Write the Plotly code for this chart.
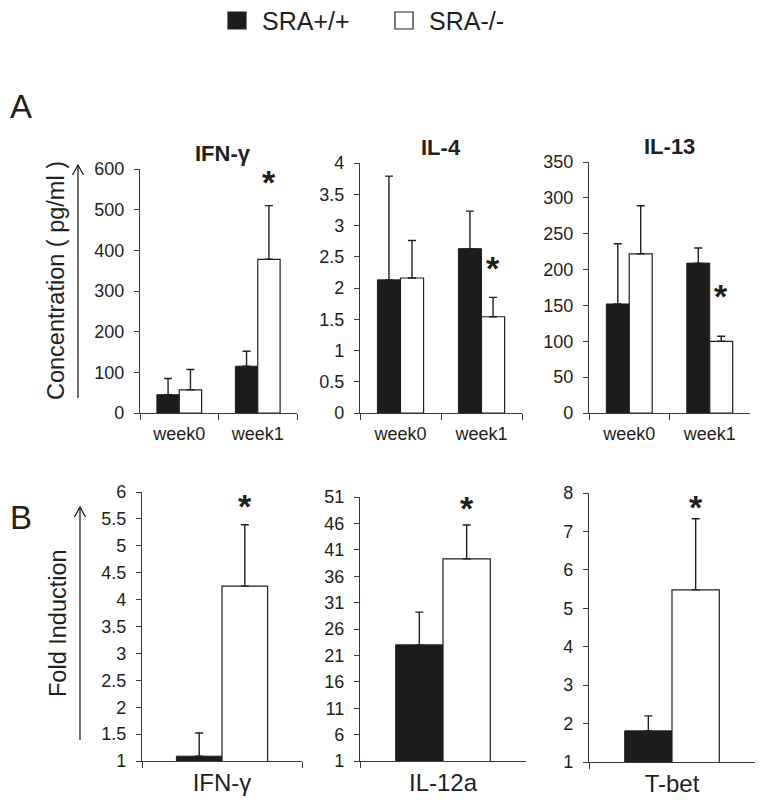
import plotly.graph_objects as go

W, H = 764, 810

# ---------------- data ----------------
groups = ["SRA+/+", "SRA-/-"]
weeks = ["week0", "week1"]

ifng_wt = [45, 115]
ifng_wt_err = [40, 37]
ifng_ko = [57, 378]
ifng_ko_err = [50, 132]

il4_wt = [2.13, 2.63]
il4_wt_err = [1.66, 0.60]
il4_ko = [2.16, 1.54]
il4_ko_err = [0.60, 0.31]

il13_wt = [152, 209]
il13_wt_err = [84, 21]
il13_ko = [222, 100]
il13_ko_err = [67, 7]

genes_b = ["IFN-γ", "IL-12a", "T-bet"]
fold_wt = [1.09, 23.0, 1.81]
fold_wt_err = [0.43, 6.2, 0.39]
fold_ko = [4.25, 39.3, 5.48]
fold_ko_err = [1.14, 6.4, 1.85]

titles_a = ["IFN-γ", "IL-4", "IL-13"]
yranges_a = [[0, 600], [0, 4], [0, 350]]
ydticks_a = [100, 0.5, 50]
yranges_b = [[1, 6], [1, 51], [1, 8]]
ydticks_b = [0.5, 5, 1]
star_a = [582, 2.42, 172]
star_b = [5.85, 50.0, 7.8]

# ---------------- layout helpers ----------------
def px(x):
    return x / W

def py(y):
    return 1 - y / H

# panel boxes in pixels: (left, right, top, bottom)
boxes_a = [(140, 297, 169, 413), (360, 522, 163, 413), (589, 750, 162, 413)]
boxes_b = [(142, 302, 492, 761), (360, 526, 497, 761), (589, 755, 493, 762)]

FONT = "Liberation Sans, Arial, sans-serif"
INK = "#231f20"
BLACK_BAR = "#1e1b1c"
AX = "#3a3a3a"

fig = go.Figure()
layout = dict(
    width=W, height=H,
    margin=dict(l=0, r=0, t=0, b=0, pad=0, autoexpand=False),
    paper_bgcolor="white", plot_bgcolor="white",
    showlegend=False,
    barmode="group", bargap=0.43, bargroupgap=0,
    font=dict(family=FONT, color=INK),
)

annotations = []
shapes = []

def add_panel(idx, cats, wt, wt_err, ko, ko_err, box, yrange, dtick, tickfont_x, xstandoff, star_y, star_off):
    xa = "x" if idx == 1 else f"x{idx}"
    ya = "y" if idx == 1 else f"y{idx}"
    err_kw = dict(type="data", symmetric=False, color=INK, thickness=1.4, width=4)
    fig.add_trace(go.Bar(
        x=cats, y=wt, name=groups[0], xaxis=xa, yaxis=ya,
        marker=dict(color=BLACK_BAR, line=dict(color=INK, width=1)),
        error_y=dict(array=wt_err, arrayminus=[0] * len(wt), **err_kw),
        offsetgroup="a",
    ))
    fig.add_trace(go.Bar(
        x=cats, y=ko, name=groups[1], xaxis=xa, yaxis=ya,
        marker=dict(color="white", line=dict(color=INK, width=1.2)),
        error_y=dict(array=ko_err, arrayminus=[0] * len(ko), **err_kw),
        offsetgroup="b",
    ))
    l, r, t, b = box
    n = len(cats)
    layout["xaxis" if idx == 1 else f"xaxis{idx}"] = dict(
        domain=[px(l), px(r)], anchor=ya, type="category", automargin=False,
        range=[-0.5, n - 0.5], showline=True, linecolor=AX, linewidth=1.3,
        ticks="outside", tickson="boundaries", ticklen=6, tickcolor=AX, tickwidth=1.3,
        ticklabelstandoff=xstandoff,
        tickfont=tickfont_x, showgrid=False, zeroline=False, fixedrange=True,
    )
    layout["yaxis" if idx == 1 else f"yaxis{idx}"] = dict(
        domain=[py(b), py(t)], anchor=xa, range=yrange, dtick=dtick, automargin=False,
        tick0=yrange[0], showline=True, linecolor=AX, linewidth=1.3,
        ticks="outside", ticklen=5, tickcolor=AX, tickwidth=1.3,
        ticklabelstandoff=6,
        tickfont=dict(size=18, family=FONT, color=INK),
        showgrid=False, zeroline=False, fixedrange=True,
    )
    annotations.append(dict(
        text="<b>*</b>", x=star_off, y=star_y, xref=xa, yref=ya,
        showarrow=False, font=dict(size=34, family=FONT, color=INK),
        xanchor="center", yanchor="middle", yshift=-6,
    ))

# Panel A
data_a = [(ifng_wt, ifng_wt_err, ifng_ko, ifng_ko_err),
          (il4_wt, il4_wt_err, il4_ko, il4_ko_err),
          (il13_wt, il13_wt_err, il13_ko, il13_ko_err)]
for i in range(3):
    wt, wte, ko, koe = data_a[i]
    add_panel(i + 1, weeks, wt, wte, ko, koe, boxes_a[i], yranges_a[i], ydticks_a[i],
              dict(size=18, family=FONT, color=INK), 4, star_a[i], 1 + 0.1425)
    l, r, t, b = boxes_a[i]
    annotations.append(dict(
        text=f"<b>{titles_a[i]}</b>", x=px((l + r) / 2 + (0 if i else 4)), y=py(t - 16),
        xref="paper", yref="paper", showarrow=False,
        font=dict(size=22, family=FONT, color=INK), xanchor="center", yanchor="middle",
    ))

# Panel B
for i in range(3):
    add_panel(i + 4, [genes_b[i]], [fold_wt[i]], [fold_wt_err[i]], [fold_ko[i]], [fold_ko_err[i]],
              boxes_b[i], yranges_b[i], ydticks_b[i],
              dict(size=24, family=FONT, color=INK), 0, star_b[i], 0.1425)

layout["annotations"] = annotations

# Panel letters
for letter, (x, y) in (("A", (21, 106)), ("B", (21, 517))):
    annotations.append(dict(text=letter, x=px(x), y=py(y), xref="paper", yref="paper",
                            showarrow=False, font=dict(size=33, family=FONT, color=INK),
                            xanchor="center", yanchor="middle"))

# Axis titles with arrows
for label, size, (tx, ty), (ax_, y0, y1) in (
    ("Concentration ( pg/ml )", 23.5, (56, 281), (78, 398, 165)),
    ("Fold Induction", 23.5, (58, 623), (80, 740, 507)),
):
    annotations.append(dict(text=label, x=px(tx), y=py(ty), xref="paper", yref="paper",
                            showarrow=False, textangle=-90,
                            font=dict(size=size, family=FONT, color=INK),
                            xanchor="center", yanchor="middle"))
    shapes.append(dict(type="line", xref="paper", yref="paper",
                       x0=px(ax_), x1=px(ax_), y0=py(y0), y1=py(y1),
                       line=dict(color=INK, width=1.3)))
    shapes.append(dict(type="path", xref="paper", yref="paper",
                       path=f"M {px(ax_ - 5.5)} {py(y1 + 10)} L {px(ax_)} {py(y1)} L {px(ax_ + 5.5)} {py(y1 + 10)}",
                       line=dict(color=INK, width=1.3)))

# Legend (manual)
legend_items = [(groups[0], BLACK_BAR, 228, 260), (groups[1], "white", 395, 427)]
for name, col, sx, tx in legend_items:
    shapes.append(dict(type="rect", xref="paper", yref="paper",
                       x0=px(sx), x1=px(sx + 18), y0=py(29), y1=py(12),
                       fillcolor=col, line=dict(color=INK, width=1.2)))
    annotations.append(dict(text=name, x=px(tx), y=py(21), xref="paper", yref="paper",
                            showarrow=False, font=dict(size=25, family=FONT, color=INK),
                            xanchor="left", yanchor="middle"))

layout["shapes"] = shapes
fig.update_layout(**layout)
fig.write_html("out.html", config={"displayModeBar": False},
               post_script="document.body.style.margin='0';")
